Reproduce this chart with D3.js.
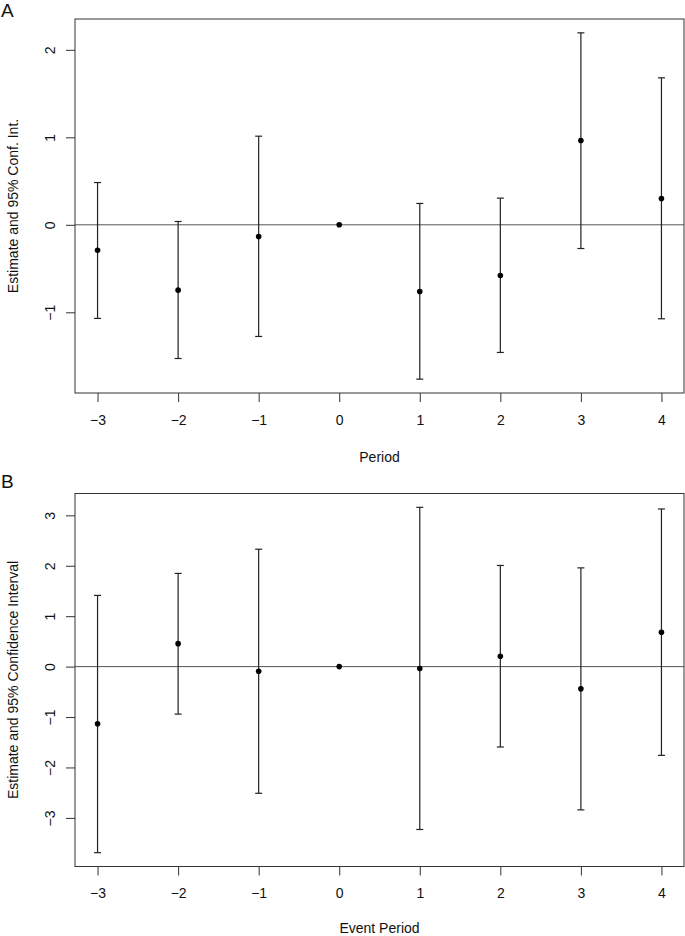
<!DOCTYPE html>
<html>
<head>
<meta charset="utf-8">
<script src="https://cdn.jsdelivr.net/npm/d3@7/dist/d3.min.js"></script>
<style>
html,body{margin:0;padding:0;background:#fff;}
svg{display:block;}
text{font-family:"Liberation Sans",Arial,sans-serif;fill:#111;}
</style>
</head>
<body>
<svg id="chart" width="685" height="936"></svg>
<script>
// ---- data ----
const periods = [-3, -2, -1, 0, 1, 2, 3, 4];
const xTicks = [-3, -2, -1, 0, 1, 2, 3, 4];

const estA  = [-0.29, -0.747, -0.133, 0, -0.762, -0.579, 0.964, 0.301];
const lowA  = [-1.07, -1.528, -1.276, 0, -1.764, -1.459, -0.271, -1.074];
const highA = [0.483, 0.038, 1.013, 0, 0.244, 0.305, 2.194, 1.68];
const yTicksA = [-1, 0, 1, 2];

const estB  = [-1.134, 0.455, -0.092, 0, -0.039, 0.205, -0.441, 0.68];
const lowB  = [-3.69, -0.942, -2.512, 0, -3.23, -1.594, -2.841, -1.76];
const highB = [1.412, 1.848, 2.328, 0, 3.159, 2.006, 1.958, 3.126];
const yTicksB = [-3, -2, -1, 0, 1, 2, 3];

const panels = [
  {label: "A", est: estA, low: lowA, high: highA, yTicks: yTicksA,
   xTitle: "Period", yTitle: "Estimate and 95% Conf. Int.",
   top: 19, bottom: 393, labelY: 17, xTitleOff: 64},
  {label: "B", est: estB, low: lowB, high: highB, yTicks: yTicksB,
   xTitle: "Event Period", yTitle: "Estimate and 95% Confidence Interval",
   top: 493.5, bottom: 866.5, labelY: 487.5, xTitleOff: 61.5}
];

const svg = d3.select("#chart");
const left = 75, right = 684;
const FS = 14;

panels.forEach(p => {
  const g = svg.append("g");
  const yMin = d3.min(p.low), yMax = d3.max(p.high);
  const yPad = (yMax - yMin) * 0.04;
  const xMin = d3.min(periods), xMax = d3.max(periods);
  const xPad = (xMax - xMin) * 0.04;
  const x = d3.scaleLinear().domain([xMin - xPad, xMax + xPad]).range([left, right]);
  const y = d3.scaleLinear().domain([yMin - yPad, yMax + yPad]).range([p.bottom, p.top]);

  // zero line
  g.append("line")
    .attr("x1", left).attr("x2", right)
    .attr("y1", y(0)).attr("y2", y(0))
    .attr("stroke", "#555").attr("stroke-width", 1);

  // error bars
  const data = periods.map((d, i) => ({p: d, e: p.est[i], lo: p.low[i], hi: p.high[i]}));
  const bars = g.append("g").selectAll("g").data(data.filter(d => d.hi !== d.lo)).join("g");
  bars.append("line")
    .attr("x1", d => x(d.p)).attr("x2", d => x(d.p))
    .attr("y1", d => y(d.lo)).attr("y2", d => y(d.hi))
    .attr("stroke", "#222").attr("stroke-width", 1.2);
  bars.append("line")
    .attr("x1", d => x(d.p) - 3.5).attr("x2", d => x(d.p) + 3.5)
    .attr("y1", d => y(d.hi)).attr("y2", d => y(d.hi))
    .attr("stroke", "#222").attr("stroke-width", 1.2);
  bars.append("line")
    .attr("x1", d => x(d.p) - 3.5).attr("x2", d => x(d.p) + 3.5)
    .attr("y1", d => y(d.lo)).attr("y2", d => y(d.lo))
    .attr("stroke", "#222").attr("stroke-width", 1.2);

  // points
  g.append("g").selectAll("circle").data(data).join("circle")
    .attr("cx", d => x(d.p)).attr("cy", d => y(d.e)).attr("r", 2.8)
    .attr("fill", "#000");

  // box
  g.append("rect")
    .attr("x", left).attr("y", p.top)
    .attr("width", right - left).attr("height", p.bottom - p.top)
    .attr("fill", "none").attr("stroke", "#333").attr("stroke-width", 1);

  // x axis
  const xAxis = g.append("g").attr("transform", `translate(0,${p.bottom})`)
    .call(d3.axisBottom(x).tickValues(xTicks).tickSize(9).tickPadding(13).tickFormat(d3.format("d")));
  xAxis.select(".domain").remove();
  xAxis.selectAll(".tick line").attr("stroke", "#333");
  xAxis.selectAll(".tick text").attr("font-size", FS).attr("fill", "#111")
    .attr("font-family", "Liberation Sans, Arial, sans-serif");

  // y axis
  const yAxis = g.append("g").attr("transform", `translate(${left},0)`)
    .call(d3.axisLeft(y).tickValues(p.yTicks).tickSize(9).tickFormat(d3.format("d")));
  yAxis.select(".domain").remove();
  yAxis.selectAll(".tick line").attr("stroke", "#333");
  yAxis.selectAll(".tick text")
    .attr("font-size", FS).attr("fill", "#111")
    .attr("font-family", "Liberation Sans, Arial, sans-serif")
    .attr("x", null).attr("dy", null)
    .attr("text-anchor", "middle")
    .attr("transform", "translate(-25,0) rotate(-90)")
    .attr("dominant-baseline", "central");

  // titles
  g.append("text")
    .attr("x", (left + right) / 2).attr("y", p.bottom + p.xTitleOff)
    .attr("text-anchor", "middle").attr("dominant-baseline", "central")
    .attr("font-size", FS).text(p.xTitle);
  g.append("text")
    .attr("transform", `translate(13,${(p.top + p.bottom) / 2}) rotate(-90)`)
    .attr("text-anchor", "middle").attr("dominant-baseline", "central")
    .attr("font-size", FS).text(p.yTitle);

  // panel label
  g.append("text")
    .attr("x", 1).attr("y", p.labelY)
    .attr("font-size", 19).text(p.label);
});
</script>
</body>
</html>
